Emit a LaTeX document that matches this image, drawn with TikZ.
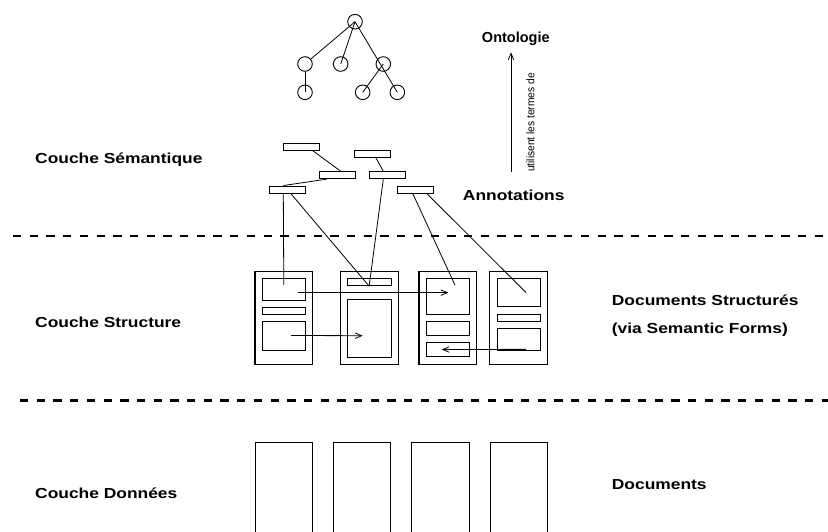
\documentclass[tikz,border=0pt]{standalone}
\usepackage{fontspec}
\setmainfont{Liberation Sans}
\newfontfamily\labelfont[FakeStretch=1.2]{Liberation Sans}
\newfontfamily\smallfont[FakeStretch=0.93]{Liberation Sans}
\usetikzlibrary{arrows.meta}
\tikzset{
	onode/.style={circle, draw, line width=0.9pt, minimum size=14.6pt, inner sep=0pt},
	annot/.style={draw, line width=0.9pt, minimum width=36pt, minimum height=7pt, inner sep=0pt},
	docbox/.style={draw, line width=1.1pt, minimum width=57.7pt, minimum height=92.6pt, inner sep=0pt},
	field/.style={draw, line width=0.9pt, minimum width=43pt, inner sep=0pt},
	layerlabel/.style={anchor=west, inner sep=0pt, font=\labelfont\bfseries\fontsize{14.5}{17}\selectfont},
	link/.style={line width=0.8pt},
	flow/.style={line width=0.8pt, -{Straight Barb[length=6.5pt,width=5.5pt]}},
	sep/.style={line width=2.6pt, dash pattern=on 8.3pt off 8.4pt}
}

\begin{document}
\begin{tikzpicture}[x=1pt, y=-1pt]
			%%%%% START %%%%%
			\useasboundingbox (0, 0) rectangle (828, 531);
			
			%% ontologie
			\node[onode] (root) at (355, 21.7) {};
			\node[onode] (o1) at (305, 64) {};
			\node[onode] (o2) at (340.7, 64) {};
			\node[onode] (o3) at (383.3, 64) {};
			\node[onode] (o4) at (305, 92.3) {};
			\node[onode] (o5) at (362.7, 92.3) {};
			\node[onode] (o6) at (397.3, 92.3) {};
			\draw[link] (root.center) -- (o1);
			\draw[link] (root.center) -- (o2.center);
			\draw[link] (root.center) -- (o6.center);
			\draw[link] (o3.center) -- (o5.center);
			\draw[link] (o1.south) -- (o4.center);
			
			%% annotations
			\node[annot] (a1) at (301.3, 146.7) {};
			\node[annot] (a2) at (372.8, 153.7) {};
			\node[annot] (a3) at (337.2, 175.2) {};
			\node[annot] (a4) at (387, 175.2) {};
			\node[annot] (a5) at (287.3, 189.5) {};
			\node[annot] (a6) at (415.5, 189.5) {};
			\draw[link] ([xshift=11.4pt]a1.south) -- ([xshift=3.5pt]a3.north);
			\draw[link] ([xshift=3pt]a2.south) -- ([xshift=-3.7pt]a4.north);
			\draw[link] ([xshift=-10.5pt]a3.south) -- ([xshift=-4pt]a5.north);
			
			%% documents structures
			\node[docbox] (d1) at (283.85, 318) {};
			\node[field, minimum height=21.7pt] (d1a) at (283.8, 289.15) {};
			\node[field, minimum height=7pt] (d1b) at (283.8, 310.8) {};
			\node[field, minimum height=29pt] (d1c) at (283.8, 335.5) {};
			
			\node[docbox] (d2) at (369.35, 318) {};
			\node[field, minimum width=43.7pt, minimum height=7.4pt] (d2a) at (369.15, 282) {};
			\node[field, minimum width=43.7pt, minimum height=58pt] (d2b) at (369.15, 328.3) {};
			
			\node[docbox] (d3) at (447.85, 318) {};
			\node[field, minimum height=35.7pt] (d3a) at (447.5, 296.15) {};
			\node[field, minimum height=14.3pt] (d3b) at (447.5, 328.15) {};
			\node[field, minimum height=14.4pt] (d3c) at (447.5, 349.5) {};
			
			\node[docbox] (d4) at (518.65, 318) {};
			\node[field, minimum height=28.4pt] (d4a) at (519, 292.5) {};
			\node[field, minimum height=7pt] (d4b) at (519, 317.5) {};
			\node[field, minimum height=21.7pt] (d4c) at (519, 339.15) {};
			
			\draw[link] ([xshift=-4pt]a5.south) -- ([yshift=4.2pt]d1a.center);
			\draw[link] ([xshift=3.4pt]a5.south) -- (d2a.south);
			\draw[link] ([xshift=-3.7pt]a4.south) -- (d2a.south);
			\draw[link] ([xshift=-2.8pt]a6.south) -- ([xshift=7.5pt, yshift=11pt]d3a.center);
			\draw[link] ([xshift=11.2pt]a6.south) -- ([xshift=7pt]d4a.center);
			
			\draw[flow] ([xshift=14.5pt, yshift=-3.5pt]d1a.center) -- ([xshift=0.8pt, yshift=3.5pt]d3a.center);
			\draw[flow] ([xshift=7pt]d1c.center) -- ([xshift=-6.5pt, yshift=-7.4pt]d2b.center);
			\draw[flow] ([xshift=7pt, yshift=-10.2pt]d4c.center) -- ([xshift=-5.8pt]d3c.center);
			
			%% documents
			\foreach \x in {255, 333.3, 411.7, 490}
				\draw[line width=0.9pt] (\x, 442.3) rectangle ++(57.5, 95);
			
			%% couches
			\draw[sep] (13, 236) -- (830, 236);
			\draw[sep] (20, 400.7) -- (830, 400.7);
			
			\node[layerlabel] (semantique) at (35, 159.3) {Couche Sémantique};
			\node[layerlabel] (structure) at (35, 322.7) {Couche Structure};
			\node[layerlabel] (donnees) at (35, 493.3) {Couche Données};
			
			\node[layerlabel, anchor=center, font=\bfseries\fontsize{14.5}{17}\selectfont] (ontologie) at (515.8, 38.3) {Ontologie};
			\node[layerlabel, anchor=center] (annotations) at (513.7, 195) {Annotations};
			\draw[flow] ([xshift=-2.7pt, yshift=17pt]annotations.north) -- ([xshift=-4.8pt, yshift=-7pt]ontologie.south);
			\node[rotate=90, inner sep=0pt, font=\smallfont\fontsize{11}{13}\selectfont] (termes) at (530.5, 122.5) {utilisent les termes de};
			
			\node[layerlabel] (structures) at (611.7, 300.7) {Documents Structurés};
			\node[layerlabel] (forms) at (611.7, 330) {(via Semantic Forms)};
			\node[layerlabel] (documents) at (611.7, 485) {Documents};
			
			%%%%% END %%%%%
\end{tikzpicture}
\end{document}
